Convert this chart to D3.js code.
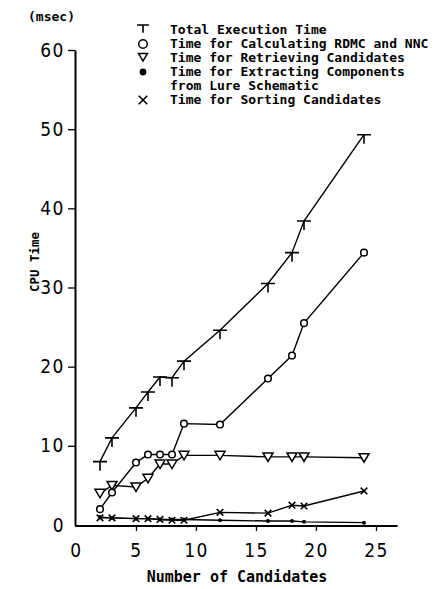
<!DOCTYPE html>
<html>
<head>
<meta charset="utf-8">
<script src="https://cdn.jsdelivr.net/npm/d3@7"></script>
<style>
  body { margin: 0; background: #fff; }
  svg { display: block; }
  .tick text { font-family: "DejaVu Sans Condensed", "DejaVu Sans", sans-serif; font-size: 19px; letter-spacing: 1.5px; fill: #000; }
  .mono { font-family: "DejaVu Sans Mono", monospace; font-weight: bold; fill: #000; }
</style>
</head>
<body>
<div id="chart"></div>
<script>
// values (msec)
const candidates = [2, 3, 5, 6, 7, 8, 9, 12, 16, 18, 19, 24];
const totalTime = [8.0, 11.0, 14.8, 16.8, 18.7, 18.6, 20.7, 24.6, 30.5, 34.4, 38.4, 49.3];
const rdmcTime = [2.0, 4.1, 7.9, 8.9, 8.9, 8.9, 12.8, 12.7, 18.5, 21.4, 25.5, 34.4];
const retrieveTime = [4.0, 5.0, 4.8, 5.9, 7.7, 7.7, 8.8, 8.8, 8.6, 8.6, 8.6, 8.5];
const extractTime = [1.0, 0.9, 0.8, 0.8, 0.7, 0.7, 0.7, 0.6, 0.5, 0.5, 0.4, 0.3];
const sortTime = [0.9, 0.9, 0.8, 0.8, 0.7, 0.6, 0.6, 1.6, 1.5, 2.5, 2.4, 4.3];

const xTicks = [0, 5, 10, 15, 20, 25];
const yTicks = [0, 10, 20, 30, 40, 50, 60];

const legendLabels = [
  ["total", "Total Execution Time"],
  ["circle", "Time for Calculating RDMC and NNC"],
  ["triangle", "Time for Retrieving Candidates"],
  ["dot", "Time for Extracting Components"],
  [null, "from Lure Schematic"],
  ["cross", "Time for Sorting Candidates"]
];

const W = 440, H = 589;
const svg = d3.select("#chart").append("svg").attr("width", W).attr("height", H);

let x = d3.scaleLinear().domain([0, 26.8]).range([76, 397.6]);
let y = d3.scaleLinear().domain([0, 60]).range([525, 50]);

// axes
let yAxis = svg.append("g")
  .attr("transform", "translate(75,0)")
  .call(d3.axisLeft(y).tickValues(yTicks).tickSize(7).tickSizeOuter(0).tickPadding(3).tickFormat(d3.format("d")));
yAxis.select(".domain").attr("stroke", "#000").attr("stroke-width", 2);
yAxis.selectAll(".tick line").attr("stroke-width", 1.3);
yAxis.selectAll(".tick").filter(d => d === 0).select("line").remove();

let xAxis = svg.append("g")
  .attr("transform", "translate(0,526)")
  .call(d3.axisBottom(x).tickValues(xTicks).tickSize(5).tickSizeOuter(0).tickPadding(13).tickFormat(d3.format("d")));
xAxis.select(".domain").attr("stroke", "#000").attr("stroke-width", 2).attr("d", "M75,0H397.6");
xAxis.selectAll(".tick line").attr("stroke-width", 1.3);
xAxis.selectAll(".tick").filter(d => d === 0).select("line").remove();

// titles
svg.append("text").attr("class", "mono")
  .attr("x", 28).attr("y", 21).style("font-size", "13px").text("(msec)");
svg.append("text").attr("class", "mono")
  .attr("transform", "translate(39,262) rotate(-90)")
  .attr("text-anchor", "middle").style("font-size", "12.5px").text("CPU Time");
svg.append("text").attr("class", "mono")
  .attr("x", 237).attr("y", 582).attr("text-anchor", "middle")
  .style("font-size", "15px").text("Number of Candidates");

// markers
function drawMarker(g, kind, cx, cy, s) {
  if (kind === "total") {
    g.append("path").attr("d", `M${cx - 7 * s},${cy}H${cx + 7 * s}M${cx},${cy}V${cy + 9 * s}`)
      .attr("stroke", "#000").attr("stroke-width", 1.6).attr("fill", "none");
  } else if (kind === "circle") {
    g.append("circle").attr("cx", cx).attr("cy", cy).attr("r", 3.3 * s)
      .attr("fill", "#fff").attr("stroke", "#000").attr("stroke-width", 1.5);
  } else if (kind === "triangle") {
    let h = 5 * s;
    g.append("path").attr("d", `M${cx - h},${cy - h * 0.8}L${cx + h},${cy - h * 0.8}L${cx},${cy + h * 0.9}Z`)
      .attr("fill", "#fff").attr("stroke", "#000").attr("stroke-width", 1.5);
  } else if (kind === "dot") {
    g.append("circle").attr("cx", cx).attr("cy", cy).attr("r", 2 * s).attr("fill", "#000");
  } else if (kind === "cross") {
    let h = 3.3 * s;
    g.append("path").attr("d", `M${cx - h},${cy - h}L${cx + h},${cy + h}M${cx + h},${cy - h}L${cx - h},${cy + h}`)
      .attr("stroke", "#000").attr("stroke-width", 1.6).attr("fill", "none");
  }
}

const series = [
  ["dot", extractTime],
  ["cross", sortTime],
  ["triangle", retrieveTime],
  ["circle", rdmcTime],
  ["total", totalTime]
];

let line = d3.line().x(d => x(d[0])).y(d => y(d[1]));

series.forEach(function(s) {
  let pts = candidates.map((c, i) => [c, s[1][i]]);
  let g = svg.append("g");
  g.append("path").attr("d", line(pts))
    .attr("fill", "none").attr("stroke", "#000").attr("stroke-width", 1.4);
  pts.forEach(p => drawMarker(g, s[0], x(p[0]), y(p[1]), 1));
});

// legend
let legend = svg.append("g");
legendLabels.forEach(function(row, i) {
  let ty = 34 + i * 14;
  if (row[0] === "total") drawMarker(legend, "total", 143, ty - 9, 0.85);
  else if (row[0] === "circle") drawMarker(legend, "circle", 143, ty - 4, 1.3);
  else if (row[0] === "triangle") drawMarker(legend, "triangle", 143, ty - 5, 0.9);
  else if (row[0] === "dot") drawMarker(legend, "dot", 143, ty - 4, 1.7);
  else if (row[0] === "cross") drawMarker(legend, "cross", 143, ty - 4, 1.3);
  legend.append("text").attr("class", "mono")
    .attr("x", 170).attr("y", ty).style("font-size", "13px").text(row[1]);
});
</script>
</body>
</html>
